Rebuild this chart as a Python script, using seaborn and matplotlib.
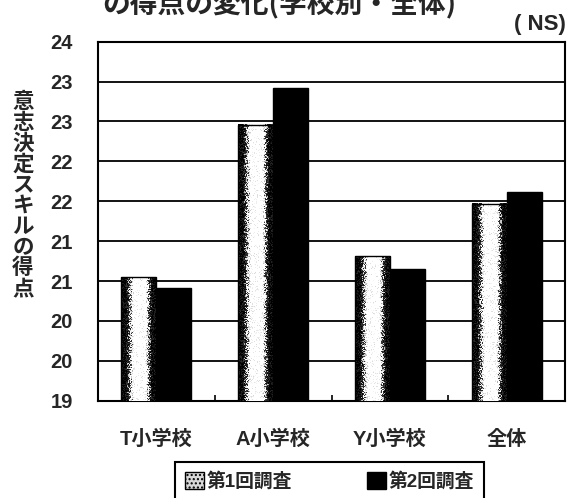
import numpy as np
import pandas as pd
import matplotlib
matplotlib.use("Agg")
import matplotlib.pyplot as plt
import seaborn as sns
from matplotlib.patches import Patch
from matplotlib.ticker import FixedLocator

# Decision-making skill scores by school, first vs second survey
schools = ["T小学校", "A小学校", "Y小学校", "全体"]
survey_1 = [20.55, 22.46, 20.81, 21.47]
survey_2 = [20.41, 22.92, 20.65, 21.62]
surveys = ["第1回調査", "第2回調査"]
y_ticks = [19, 19.5, 20, 20.5, 21, 21.5, 22, 22.5, 23, 23.5]
y_tick_labels = ["19", "20", "20", "21", "21", "22", "22", "23", "23", "24"]

df = pd.DataFrame({
    "school": schools * 2,
    "score": survey_1 + survey_2,
    "survey": [surveys[0]] * len(schools) + [surveys[1]] * len(schools),
})

sns.set_theme(style="white")
plt.rcParams["font.family"] = ["Noto Sans CJK JP", "DejaVu Sans"]
plt.rcParams["font.weight"] = "bold"

W, H = 572, 498
fig = plt.figure(figsize=(W / 100, H / 100), dpi=100)
ax = fig.add_axes([98 / W, 1 - 400.7 / H, (565 - 98) / W, (400.7 - 41.7) / H])

sns.barplot(data=df, x="school", y="score", hue="survey", order=schools,
            hue_order=surveys, palette=["#ffffff", "#000000"], width=0.6,
            gap=0, edgecolor="black", linewidth=1.0, errorbar=None,
            legend=False, ax=ax, zorder=3)

ymin, ymax = 19, 23.5

# cylinder-like shading for the first-survey bars: dark rims, light core
rng = np.random.default_rng(11)
stops_t = [0.0, 0.12, 0.36, 0.68, 0.88, 1.0]
stops_b = [0.0, 0.0, 1.0, 1.0, 0.0, 0.0]
for bar in ax.containers[0]:
    x0, w = bar.get_x(), bar.get_width()
    top = bar.get_y() + bar.get_height()
    ncols = 36
    nrows = max(int((top - ymin) * 80), 2)
    t = (np.arange(ncols) + 0.5) / ncols
    prof = np.interp(t, stops_t, stops_b)
    shade = np.tile(prof, (nrows, 1))
    grain = rng.random((nrows, ncols))
    img = np.clip(shade + (grain - 0.5) * 0.7, 0, 1)
    img = np.where(img > 0.5, np.clip(img * 1.3, 0, 1), img * 0.5)
    ax.imshow(img, cmap="gray", vmin=0, vmax=1, extent=[x0, x0 + w, ymin, top],
              aspect="auto", interpolation="nearest", origin="lower", zorder=3.5)
    bar.set_facecolor("none")
    bar.set_zorder(4)

ax.set_xlim(-0.5, len(schools) - 0.5)
ax.set_ylim(ymin, ymax)
ax.set_xlabel("")
ax.set_ylabel("")

ax.yaxis.set_major_locator(FixedLocator(y_ticks))
ax.set_yticklabels(y_tick_labels)
ax.yaxis.grid(True, color="black", linewidth=1.3)
ax.xaxis.grid(False)
ax.set_axisbelow(True)

for s in ax.spines.values():
    s.set_color("black")
    s.set_linewidth(1.5)

ax.tick_params(axis="y", length=0, pad=18)
ax.tick_params(axis="x", which="major", length=0, pad=21)
ax.xaxis.set_minor_locator(FixedLocator([0.5, 1.5, 2.5]))
ax.tick_params(axis="x", which="minor", direction="in", length=4, width=1.2,
               color="black", bottom=True)

for lab in ax.get_yticklabels():
    lab.set_fontfamily(["Liberation Sans", "DejaVu Sans"])
    lab.set_fontweight("bold")
    lab.set_fontsize(14.5)
for lab in ax.get_xticklabels():
    lab.set_fontfamily(["Liberation Sans", "Noto Sans CJK JP"])
    lab.set_fontweight("bold")
    lab.set_fontsize(14.5)

# title (second line) and significance note
fig.text(102 / W, 1 - 12 / H, "の得点の変化(学校別・全体)", ha="left",
         va="baseline", fontsize=20, fontweight="bold")
fig.text(566 / W, 1 - 30 / H, "( NS)", ha="right", va="baseline",
         fontsize=16, fontweight="bold",
         family=["Liberation Sans", "Noto Sans CJK JP"])

# vertical y-axis title, one character per line
fig.text(23 / W, 1 - 195 / H, "\n".join("意志決定スキルの得点"), ha="center",
         va="center", fontsize=15.5, fontweight="bold", linespacing=0.99)

handles = [Patch(facecolor="#d8d8d8", edgecolor="black", hatch="....", linewidth=1),
           Patch(facecolor="black", edgecolor="black")]
leg = fig.legend(handles, surveys, loc="upper center",
                 bbox_to_anchor=(329.5 / W, 1 - 462 / H), ncol=2, frameon=True,
                 fancybox=False, edgecolor="black", framealpha=1,
                 handlelength=1.0, handleheight=1.0, handletextpad=0.15,
                 columnspacing=4.0, borderpad=0.55, borderaxespad=0,
                 prop=dict(family=["Liberation Sans", "Noto Sans CJK JP"],
                           weight="bold", size=13.5))
leg.get_frame().set_linewidth(1.5)

fig.savefig("out.png", dpi=100)
